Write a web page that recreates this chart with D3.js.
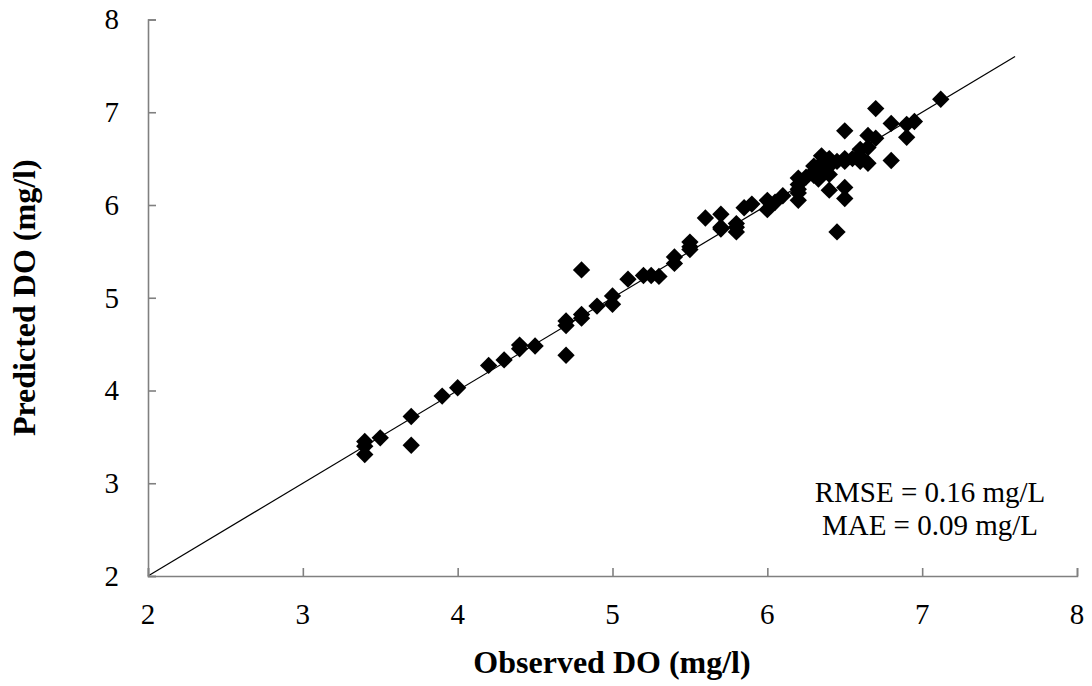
<!DOCTYPE html>
<html>
<head>
<meta charset="utf-8">
<script src="https://cdn.jsdelivr.net/npm/d3@7"></script>
<style>
  html, body { margin: 0; padding: 0; background: #fff; }
  svg { display: block; }
  text { font-family: "Liberation Serif", "Times New Roman", serif; fill: #000; }
</style>
</head>
<body>
<svg id="chart" width="1092" height="686"></svg>
<script>
// Observed vs predicted dissolved oxygen (mg/l)
const observed = [
  3.4, 3.4, 3.4, 3.5, 3.7, 3.7, 3.9, 4.0, 4.2, 4.3,
  4.4, 4.4, 4.5, 4.7, 4.7, 4.7, 4.8, 4.8, 4.8, 4.9,
  5.0, 5.0, 5.1, 5.2, 5.25, 5.3, 5.4, 5.4, 5.5, 5.5,
  5.5, 5.6, 5.7, 5.7, 5.7, 5.8, 5.8, 5.8, 5.85, 5.9,
  6.0, 6.0, 6.05, 6.1, 6.2, 6.2, 6.2, 6.2, 6.2, 6.25,
  6.3, 6.3, 6.3, 6.33, 6.35, 6.35, 6.37, 6.4, 6.4, 6.4,
  6.4, 6.45, 6.45, 6.5, 6.5, 6.5, 6.5, 6.5, 6.55, 6.6,
  6.6, 6.6, 6.65, 6.65, 6.65, 6.7, 6.7, 6.8, 6.8, 6.9,
  6.9, 6.95, 7.12
];
const predicted = [
  3.45, 3.40, 3.31, 3.49, 3.72, 3.41, 3.94, 4.03, 4.27, 4.33,
  4.49, 4.45, 4.48, 4.38, 4.70, 4.75, 4.78, 4.82, 5.30, 4.91,
  5.02, 4.93, 5.20, 5.24, 5.24, 5.23, 5.44, 5.37, 5.60, 5.55,
  5.52, 5.86, 5.90, 5.76, 5.74, 5.76, 5.71, 5.80, 5.97, 6.01,
  6.05, 5.95, 6.03, 6.10, 6.29, 6.22, 6.17, 6.13, 6.05, 6.30,
  6.36, 6.42, 6.32, 6.28, 6.53, 6.45, 6.38, 6.50, 6.42, 6.33,
  6.16, 6.47, 5.71, 6.80, 6.50, 6.47, 6.19, 6.07, 6.50, 6.60,
  6.52, 6.47, 6.45, 6.75, 6.62, 6.72, 7.04, 6.88, 6.48, 6.73,
  6.87, 6.90, 7.14
];
const xTicks = [2, 3, 4, 5, 6, 7, 8];
const yTicks = [2, 3, 4, 5, 6, 7, 8];
const identityLine = [2, 7.6];
const statsLines = ["RMSE = 0.16 mg/L", "MAE = 0.09 mg/L"];

const svg = d3.select("#chart");
const x = d3.scaleLinear().domain([2, 8]).range([148, 1077]);
const y = d3.scaleLinear().domain([2, 8]).range([576, 19.5]);
const axisColor = "#808080";

// 1:1 reference line
svg.append("line")
  .attr("x1", x(identityLine[0])).attr("y1", y(identityLine[0]))
  .attr("x2", x(identityLine[1])).attr("y2", y(identityLine[1]))
  .attr("stroke", "#000").attr("stroke-width", 1.2);

// axes with inward ticks
const xAxis = svg.append("g")
  .attr("transform", `translate(0,${y(2)})`)
  .call(d3.axisTop(x).tickValues(xTicks).tickSize(8).tickFormat(""));
const yAxis = svg.append("g")
  .attr("transform", `translate(${x(2)},0)`)
  .call(d3.axisRight(y).tickValues(yTicks).tickSize(8).tickFormat(""));
[xAxis, yAxis].forEach(g => {
  g.select(".domain").attr("stroke", axisColor).attr("stroke-width", 1.6);
  g.selectAll(".tick line").attr("stroke", axisColor).attr("stroke-width", 1.6);
});

// tick labels
svg.append("g").selectAll("text").data(xTicks).join("text")
  .attr("x", d => x(d)).attr("y", 624)
  .attr("text-anchor", "middle").attr("font-size", 29)
  .text(d => d);
svg.append("g").selectAll("text").data(yTicks).join("text")
  .attr("x", 119).attr("y", d => y(d)).attr("dy", "0.34em")
  .attr("text-anchor", "end").attr("font-size", 29)
  .text(d => d);

// data points as diamonds
const points = observed.map((o, i) => ({ o, p: predicted[i] }));
svg.append("g").selectAll("path").data(points).join("path")
  .attr("d", d3.symbol().type(d3.symbolSquare).size(150))
  .attr("transform", d => `translate(${x(d.o)},${y(d.p)}) rotate(45)`)
  .attr("fill", "#000");

// axis titles
svg.append("text")
  .attr("x", 612).attr("y", 673)
  .attr("text-anchor", "middle").attr("font-size", 32).attr("font-weight", "bold")
  .text("Observed DO (mg/l)");
svg.append("text")
  .attr("transform", `translate(35,${(y(2) + y(8)) / 2}) rotate(-90)`)
  .attr("text-anchor", "middle").attr("font-size", 32).attr("font-weight", "bold")
  .text("Predicted DO (mg/l)");

// error statistics
svg.append("g").selectAll("text").data(statsLines).join("text")
  .attr("x", 930).attr("y", (d, i) => 502 + i * 33)
  .attr("text-anchor", "middle").attr("font-size", 29)
  .text(d => d);
</script>
</body>
</html>
